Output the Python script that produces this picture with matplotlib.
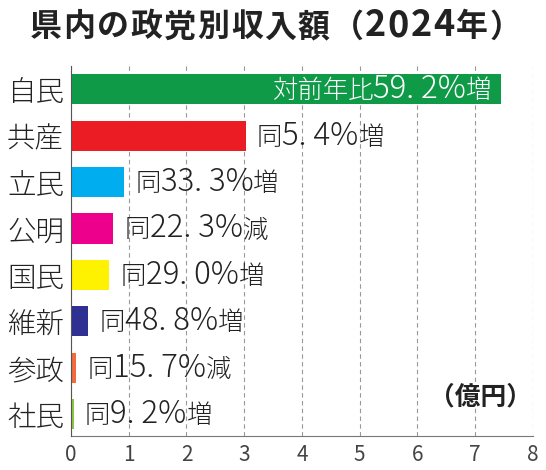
import re
import matplotlib.pyplot as plt
from matplotlib.offsetbox import AnnotationBbox, HPacker, TextArea

plt.rcParams['font.family'] = ['Noto Sans CJK JP', 'DejaVu Sans']

# データ（億円）
parties = ["自民", "共産", "立民", "公明", "国民", "維新", "参政", "社民"]
income = [7.45, 3.03, 0.92, 0.73, 0.66, 0.30, 0.09, 0.05]
notes = ["対前年比59. 2%増", "同5. 4%増", "同33. 3%増", "同22. 3%減",
         "同29. 0%増", "同48. 8%増", "同15. 7%減", "同9. 2%増"]
colors = ["#0f9a48", "#ec1c24", "#00aeef", "#ec008c",
          "#fff200", "#2e3192", "#f26b3a", "#8dc63f"]


def mixed(s, size, num_size, color, weight="normal", sep=0, per_char=False):
    # 数字は大きめ、漢字は普通サイズで並べる
    pat = r"[0-9.%\s]|[^0-9.%\s]" if per_char else r"[0-9.%\s]+|[^0-9.%\s]+"
    parts = []
    for run in re.findall(pat, s):
        sz = num_size if re.match(r"[0-9.%\s]", run) else size
        parts.append(TextArea(run, textprops=dict(fontsize=sz, color=color,
                                                  fontweight=weight)))
    return HPacker(children=parts, align="baseline", pad=0, sep=sep)


fig = plt.figure(figsize=(5.46, 4.70), dpi=100)
ax = fig.add_axes([0.130, 0.0723, 0.846, 0.7873])

y = list(range(len(parties)))
ax.barh(y, income, height=0.65, color=colors, zorder=3)

for i, (v, t) in enumerate(zip(income, notes)):
    if i == 0:
        box = mixed(t, 18.3, 22.5, "white", "light")
        ab = AnnotationBbox(box, (v, i), xybox=(-7, 0), boxcoords="offset points",
                            box_alignment=(1, 0.5), frameon=False, pad=0)
    else:
        box = mixed(t, 18.3, 22.5, "#222222", "light")
        ab = AnnotationBbox(box, (v, i), xybox=(8, 0), boxcoords="offset points",
                            box_alignment=(0, 0.5), frameon=False, pad=0)
    ab.set_zorder(4)
    ax.add_artist(ab)

ax.set_xlim(0, 8)
ax.set_ylim(7.47, -0.50)
ax.set_xticks(range(9))
ax.set_yticks(y)
ax.set_yticklabels(parties, fontsize=20.5, color="#222222", fontweight="light")
ax.tick_params(axis="x", labelsize=15, colors="#444444", length=0, pad=6)
ax.tick_params(axis="y", length=0, pad=5)
ax.grid(axis="x", linestyle=(0, (4, 3)), color="#999999", linewidth=0.8, zorder=0)
for s in ["top", "right"]:
    ax.spines[s].set_visible(False)
ax.spines["left"].set_color("#555555")
ax.spines["bottom"].set_color("#777777")
ax.spines["left"].set_zorder(5)

ax.text(7.98, 6.62, "（億円）", ha="right", va="center", fontsize=18.5,
        fontweight="bold", color="#222222")

title = mixed("県内の政党別収入額（2024年）", 23, 26, "#222222", "bold",
              sep=1.1, per_char=True)
tb = AnnotationBbox(title, (0.505, 0.945), xycoords="figure fraction",
                    box_alignment=(0.5, 0.5), frameon=False, pad=0,
                    annotation_clip=False)
fig.add_artist(tb)

fig.savefig("out.png", dpi=100)
